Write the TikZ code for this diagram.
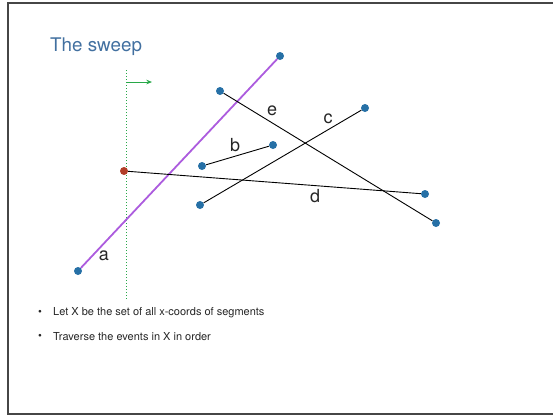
\documentclass[tikz,border=0pt]{standalone}
\usepackage{fontspec}
\setmainfont{TeX Gyre Heros}
\usetikzlibrary{arrows.meta}
\definecolor{titleBlue}{RGB}{66,112,160}
\definecolor{dotBlue}{RGB}{38,112,166}
\definecolor{dotRed}{RGB}{178,62,40}
\definecolor{sweepGreen}{RGB}{40,168,72}
\definecolor{segPurple}{RGB}{172,92,222}
\definecolor{frameGray}{RGB}{70,70,70}
\tikzset{
  end point/.style={circle,fill=dotBlue,inner sep=0pt,minimum size=8pt},
  end point red/.style={circle,fill=dotRed,inner sep=0pt,minimum size=8pt},
  seg line/.style={draw=black,line width=0.9pt},
  seg line hit/.style={draw=segPurple,line width=1.8pt},
  seg label/.style={font=\fontsize{18}{18}\selectfont,text=black!85,inner sep=0pt},
  bullet text/.style={font=\fontsize{11}{12}\selectfont,text=black!85,anchor=west,inner sep=0pt},
  sweep arrow/.style={-{Stealth[length=2mm,width=1.6mm]},draw=sweepGreen,line width=0.9pt}
}
\begin{document}
\begin{tikzpicture}[x=1pt,y=-1pt]
        \useasboundingbox (0,0) rectangle (553,416);
        \draw[frameGray,line width=1.2pt] (553,3) -- (8,3) -- (8,414) -- (553,414);
        \node[anchor=west,text=titleBlue,font=\fontsize{18.8}{20}\selectfont,inner sep=0pt] (title) at (50,47) {The sweep};
        % sweep line
        \coordinate (sweepTop) at (126,70);
        \coordinate (sweepBot) at (126,300);
        \coordinate (sweepFoot) at (126,82);
        \coordinate (sweepDir) at (152,82);
        \draw[sweepGreen,dotted,line width=1pt] (sweepTop) -- (sweepBot);
        \draw[sweep arrow] (sweepFoot) -- (sweepDir);
        % segment end points
        \node[end point] (a1) at (78,271) {};
        \node[end point] (a2) at (280,56) {};
        \node[end point] (e1) at (220,91) {};
        \node[end point] (e2) at (436,223) {};
        \node[end point] (c1) at (200,205) {};
        \node[end point] (c2) at (365,108) {};
        \node[end point] (b1) at (202,166) {};
        \node[end point] (b2) at (273,145) {};
        \node[end point red] (d1) at (124,171) {};
        \node[end point] (d2) at (425,194) {};
        % segments
        \draw[seg line hit] (a1) -- (a2);
        \draw[seg line] (e1) -- (e2);
        \draw[seg line] (c1) -- (c2);
        \draw[seg line] (b1) -- (b2);
        \draw[seg line] (d1) -- (d2);
        % labels
        \node[seg label] (la) at (104,256) {a};
        \node[seg label] (lb) at (235,145) {b};
        \node[seg label] (lc) at (328,119) {c};
        \node[seg label] (le) at (272,111) {e};
        \node[seg label] (ld) at (315,196) {d};
        % bullets
        \node[bullet text] (dot1) at (38,313) {\textbullet};
        \node[bullet text] (item1) at (53,313) {Let X be the set of all x-coords of segments};
        \node[bullet text] (dot2) at (38,337) {\textbullet};
        \node[bullet text] (item2) at (53,337) {Traverse the events in X in order};
      \end{tikzpicture}
\end{document}
